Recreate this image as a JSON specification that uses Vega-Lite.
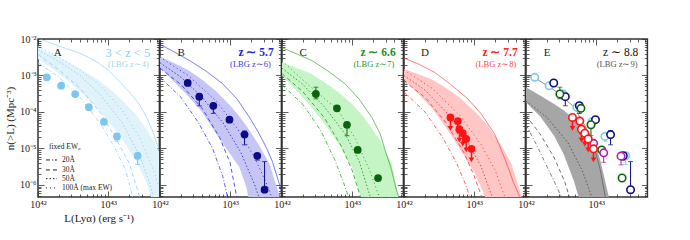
{
"$schema":"https://vega.github.io/schema/vega-lite/v6.json",
"padding":{"left":3,"top":33,"right":5,"bottom":5},
"spacing":0,
"bounds":"flush",
"config":{"view":{"stroke":"#333","strokeWidth":1.5},
"axis":{"domain":false,"grid":false,"labelFont":"Liberation Serif","labelFontSize":10,"labelColor":"#222","tickColor":"#333","tickWidth":0.8,"titleFont":"Liberation Serif","titleFontSize":11,"titleFontWeight":"normal","titleColor":"#222","labelFlush":false,"labelOverlap":false,"labelPadding":8},
"axisBottom":{"titlePadding":0},
"text":{"font":"Liberation Serif"}},
"datasets":{
"pts":[
{"g":"A","x":42.125,"y":-3.05},{"g":"A","x":42.33,"y":-3.28},{"g":"A","x":42.53,"y":-3.51},{"g":"A","x":42.725,"y":-3.87},{"g":"A","x":42.94,"y":-4.27},
{"g":"A","x":43.125,"y":-4.67,"lo":-4.8,"hi":-4.6},{"g":"A","x":43.42,"y":-5.2,"lo":-5.44,"hi":-5.12},
{"g":"B","x":42.395,"y":-3.205},{"g":"B","x":42.56,"y":-3.58,"lo":-3.83,"hi":-3.5},{"g":"B","x":42.76,"y":-3.83,"lo":-4.04,"hi":-3.83},{"g":"B","x":42.99,"y":-4.21},
{"g":"B","x":43.205,"y":-4.62,"lo":-4.9,"hi":-4.52},{"g":"B","x":43.386,"y":-5.2,"lo":-5.32,"hi":-5.2},{"g":"B","x":43.49,"y":-6.13,"lo":-6.13,"hi":-5.36},
{"g":"C","x":42.483,"y":-3.507,"lo":-3.64,"hi":-3.32},{"g":"C","x":42.783,"y":-3.9},{"g":"C","x":42.926,"y":-4.35,"lo":-4.65,"hi":-4.35},{"g":"C","x":43.079,"y":-5.04},{"g":"C","x":43.369,"y":-5.81},
{"g":"M","x":42.964,"y":-4.86},{"g":"M","x":43.107,"y":-5.12,"lo":-5.38,"hi":-5.12},{"g":"M","x":43.354,"y":-5.21,"lo":-5.45,"hi":-5.21},
{"g":"D","x":42.662,"y":-4.15,"arr":-4.45},{"g":"D","x":42.767,"y":-4.25,"arr":-4.55},{"g":"D","x":42.79,"y":-4.47,"arr":-4.77},{"g":"D","x":42.838,"y":-4.58,"arr":-4.88},{"g":"D","x":42.886,"y":-4.74,"arr":-5.04},{"g":"D","x":42.962,"y":-5.01,"arr":-5.31}
],
"curves":[
{"p":"A","k":"solid","x":42,"y":-1.98},{"p":"A","k":"solid","x":42.2,"y":-2.12},{"p":"A","k":"solid","x":42.4,"y":-2.26},{"p":"A","k":"solid","x":42.6,"y":-2.39},{"p":"A","k":"solid","x":42.8,"y":-2.58},{"p":"A","k":"solid","x":43.0,"y":-2.85},{"p":"A","k":"solid","x":43.1,"y":-3.04},{"p":"A","k":"solid","x":43.2,"y":-3.25},{"p":"A","k":"solid","x":43.3,"y":-3.45},{"p":"A","k":"solid","x":43.44,"y":-3.78},{"p":"A","k":"solid","x":43.55,"y":-4.15},{"p":"A","k":"solid","x":43.63,"y":-4.51},{"p":"A","k":"solid","x":43.73,"y":-5.07},
{"p":"A","k":"dashdot","x":42,"y":-2.65},{"p":"A","k":"dashdot","x":42.3,"y":-3.05},{"p":"A","k":"dashdot","x":42.6,"y":-3.6},{"p":"A","k":"dashdot","x":42.9,"y":-4.35},{"p":"A","k":"dashdot","x":43.1,"y":-5.0},{"p":"A","k":"dashdot","x":43.25,"y":-5.6},{"p":"A","k":"dashdot","x":43.36,"y":-6.4},
{"p":"A","k":"dashed","x":42,"y":-2.42},{"p":"A","k":"dashed","x":42.3,"y":-2.85},{"p":"A","k":"dashed","x":42.6,"y":-3.35},{"p":"A","k":"dashed","x":42.9,"y":-4.05},{"p":"A","k":"dashed","x":43.1,"y":-4.7},{"p":"A","k":"dashed","x":43.3,"y":-5.4},{"p":"A","k":"dashed","x":43.46,"y":-6.4},
{"p":"A","k":"dot50","x":42,"y":-2.3},{"p":"A","k":"dot50","x":42.3,"y":-2.62},{"p":"A","k":"dot50","x":42.6,"y":-3.0},{"p":"A","k":"dot50","x":42.9,"y":-3.55},{"p":"A","k":"dot50","x":43.2,"y":-4.3},{"p":"A","k":"dot50","x":43.45,"y":-5.2},{"p":"A","k":"dot50","x":43.6,"y":-6.0},{"p":"A","k":"dot50","x":43.65,"y":-6.4},
{"p":"A","k":"dot100","x":42,"y":-2.2},{"p":"A","k":"dot100","x":42.3,"y":-2.5},{"p":"A","k":"dot100","x":42.6,"y":-2.85},{"p":"A","k":"dot100","x":42.9,"y":-3.3},{"p":"A","k":"dot100","x":43.2,"y":-3.95},{"p":"A","k":"dot100","x":43.45,"y":-4.7},{"p":"A","k":"dot100","x":43.65,"y":-5.6},{"p":"A","k":"dot100","x":43.73,"y":-6.1},
{"p":"B","k":"solid","x":42,"y":-2.15},{"p":"B","k":"solid","x":42.2,"y":-2.35},{"p":"B","k":"solid","x":42.42,"y":-2.59},{"p":"B","k":"solid","x":42.65,"y":-2.87},{"p":"B","k":"solid","x":42.895,"y":-3.23},{"p":"B","k":"solid","x":43.1,"y":-3.65},{"p":"B","k":"solid","x":43.276,"y":-4.15},{"p":"B","k":"solid","x":43.4,"y":-4.55},{"p":"B","k":"solid","x":43.514,"y":-4.97},{"p":"B","k":"solid","x":43.6,"y":-5.35},{"p":"B","k":"solid","x":43.657,"y":-5.7},{"p":"B","k":"solid","x":43.73,"y":-6.16},
{"p":"B","k":"dashdot","x":42,"y":-3.05},{"p":"B","k":"dashdot","x":42.3,"y":-3.6},{"p":"B","k":"dashdot","x":42.55,"y":-4.3},{"p":"B","k":"dashdot","x":42.75,"y":-5.0},{"p":"B","k":"dashdot","x":42.9,"y":-5.8},{"p":"B","k":"dashdot","x":42.97,"y":-6.4},
{"p":"B","k":"dashed","x":42,"y":-2.8},{"p":"B","k":"dashed","x":42.3,"y":-3.25},{"p":"B","k":"dashed","x":42.6,"y":-3.9},{"p":"B","k":"dashed","x":42.85,"y":-4.7},{"p":"B","k":"dashed","x":43.0,"y":-5.4},{"p":"B","k":"dashed","x":43.1,"y":-6.4},
{"p":"B","k":"dot50","x":42,"y":-2.65},{"p":"B","k":"dot50","x":42.3,"y":-3.05},{"p":"B","k":"dot50","x":42.6,"y":-3.6},{"p":"B","k":"dot50","x":42.9,"y":-4.3},{"p":"B","k":"dot50","x":43.15,"y":-5.1},{"p":"B","k":"dot50","x":43.35,"y":-6.0},{"p":"B","k":"dot50","x":43.42,"y":-6.4},
{"p":"B","k":"dot100","x":42,"y":-2.5},{"p":"B","k":"dot100","x":42.4,"y":-3.0},{"p":"B","k":"dot100","x":42.8,"y":-3.7},{"p":"B","k":"dot100","x":43.1,"y":-4.45},{"p":"B","k":"dot100","x":43.35,"y":-5.25},{"p":"B","k":"dot100","x":43.55,"y":-6.1},{"p":"B","k":"dot100","x":43.6,"y":-6.4},
{"p":"C","k":"solid","x":42,"y":-2.24},{"p":"C","k":"solid","x":42.2,"y":-2.4},{"p":"C","k":"solid","x":42.426,"y":-2.59},{"p":"C","k":"solid","x":42.65,"y":-2.87},{"p":"C","k":"solid","x":42.9,"y":-3.23},{"p":"C","k":"solid","x":43.1,"y":-3.65},{"p":"C","k":"solid","x":43.28,"y":-4.15},{"p":"C","k":"solid","x":43.4,"y":-4.6},{"p":"C","k":"solid","x":43.47,"y":-5.06},{"p":"C","k":"solid","x":43.55,"y":-5.51},{"p":"C","k":"solid","x":43.62,"y":-6.06},{"p":"C","k":"solid","x":43.69,"y":-6.5},
{"p":"C","k":"dashdot","x":42,"y":-3.25},{"p":"C","k":"dashdot","x":42.3,"y":-3.8},{"p":"C","k":"dashdot","x":42.55,"y":-4.5},{"p":"C","k":"dashdot","x":42.75,"y":-5.3},{"p":"C","k":"dashdot","x":42.88,"y":-5.95},{"p":"C","k":"dashdot","x":42.96,"y":-6.4},
{"p":"C","k":"dashed","x":42,"y":-2.95},{"p":"C","k":"dashed","x":42.3,"y":-3.45},{"p":"C","k":"dashed","x":42.6,"y":-4.15},{"p":"C","k":"dashed","x":42.85,"y":-4.95},{"p":"C","k":"dashed","x":43.0,"y":-5.6},{"p":"C","k":"dashed","x":43.13,"y":-6.4},
{"p":"C","k":"dot50","x":42,"y":-2.8},{"p":"C","k":"dot50","x":42.3,"y":-3.25},{"p":"C","k":"dot50","x":42.6,"y":-3.85},{"p":"C","k":"dot50","x":42.9,"y":-4.6},{"p":"C","k":"dot50","x":43.1,"y":-5.35},{"p":"C","k":"dot50","x":43.27,"y":-6.4},
{"p":"C","k":"dot100","x":42,"y":-2.6},{"p":"C","k":"dot100","x":42.4,"y":-3.3},{"p":"C","k":"dot100","x":42.8,"y":-3.95},{"p":"C","k":"dot100","x":43.05,"y":-4.75},{"p":"C","k":"dot100","x":43.25,"y":-5.6},{"p":"C","k":"dot100","x":43.4,"y":-6.4},
{"p":"D","k":"solid","x":42,"y":-2.52},{"p":"D","k":"solid","x":42.2,"y":-2.68},{"p":"D","k":"solid","x":42.433,"y":-2.91},{"p":"D","k":"solid","x":42.65,"y":-3.22},{"p":"D","k":"solid","x":42.91,"y":-3.64},{"p":"D","k":"solid","x":43.1,"y":-4.05},{"p":"D","k":"solid","x":43.29,"y":-4.6},{"p":"D","k":"solid","x":43.4,"y":-5.1},{"p":"D","k":"solid","x":43.48,"y":-5.5},{"p":"D","k":"solid","x":43.55,"y":-5.88},{"p":"D","k":"solid","x":43.65,"y":-6.33},{"p":"D","k":"solid","x":43.68,"y":-6.5},
{"p":"D","k":"dashdot","x":42,"y":-3.45},{"p":"D","k":"dashdot","x":42.3,"y":-4.0},{"p":"D","k":"dashdot","x":42.55,"y":-4.7},{"p":"D","k":"dashdot","x":42.75,"y":-5.4},{"p":"D","k":"dashdot","x":42.88,"y":-6.0},{"p":"D","k":"dashdot","x":42.95,"y":-6.4},
{"p":"D","k":"dashed","x":42,"y":-3.15},{"p":"D","k":"dashed","x":42.3,"y":-3.6},{"p":"D","k":"dashed","x":42.6,"y":-4.3},{"p":"D","k":"dashed","x":42.85,"y":-5.1},{"p":"D","k":"dashed","x":43.0,"y":-5.75},{"p":"D","k":"dashed","x":43.12,"y":-6.4},
{"p":"D","k":"dot50","x":42,"y":-3.0},{"p":"D","k":"dot50","x":42.3,"y":-3.4},{"p":"D","k":"dot50","x":42.6,"y":-4.0},{"p":"D","k":"dot50","x":42.9,"y":-4.8},{"p":"D","k":"dot50","x":43.1,"y":-5.5},{"p":"D","k":"dot50","x":43.27,"y":-6.4},
{"p":"D","k":"dot100","x":42,"y":-2.85},{"p":"D","k":"dot100","x":42.4,"y":-3.35},{"p":"D","k":"dot100","x":42.8,"y":-4.1},{"p":"D","k":"dot100","x":43.1,"y":-4.9},{"p":"D","k":"dot100","x":43.3,"y":-5.6},{"p":"D","k":"dot100","x":43.45,"y":-6.4},
{"p":"E","k":"solid","x":42,"y":-3.0},{"p":"E","k":"solid","x":42.155,"y":-3.1},{"p":"E","k":"solid","x":42.4,"y":-3.4},{"p":"E","k":"solid","x":42.68,"y":-3.85},{"p":"E","k":"solid","x":42.85,"y":-4.4},{"p":"E","k":"solid","x":42.99,"y":-5.1},{"p":"E","k":"solid","x":43.06,"y":-5.6},{"p":"E","k":"solid","x":43.13,"y":-6.33},{"p":"E","k":"solid","x":43.15,"y":-6.5},
{"p":"E","k":"dashdot","x":42,"y":-4.35},{"p":"E","k":"dashdot","x":42.15,"y":-4.9},{"p":"E","k":"dashdot","x":42.3,"y":-5.5},{"p":"E","k":"dashdot","x":42.45,"y":-6.1},{"p":"E","k":"dashdot","x":42.52,"y":-6.4},
{"p":"E","k":"dashed","x":42,"y":-4.1},{"p":"E","k":"dashed","x":42.2,"y":-4.6},{"p":"E","k":"dashed","x":42.4,"y":-5.25},{"p":"E","k":"dashed","x":42.55,"y":-5.9},{"p":"E","k":"dashed","x":42.63,"y":-6.4},
{"p":"E","k":"dot50","x":42,"y":-3.7},{"p":"E","k":"dot50","x":42.3,"y":-4.15},{"p":"E","k":"dot50","x":42.6,"y":-4.85},{"p":"E","k":"dot50","x":42.8,"y":-5.6},{"p":"E","k":"dot50","x":42.95,"y":-6.4}
],
"bands":[
{"p":"A","x":42,"lo":-2.55,"hi":-2.23},{"p":"A","x":42.2,"lo":-2.8,"hi":-2.41},{"p":"A","x":42.4,"lo":-3.1,"hi":-2.6},{"p":"A","x":42.6,"lo":-3.43,"hi":-2.82},{"p":"A","x":42.8,"lo":-3.8,"hi":-3.05},{"p":"A","x":43.0,"lo":-4.25,"hi":-3.33},{"p":"A","x":43.2,"lo":-4.75,"hi":-3.68},{"p":"A","x":43.4,"lo":-5.35,"hi":-4.08},{"p":"A","x":43.55,"lo":-5.95,"hi":-4.48},{"p":"A","x":43.63,"lo":-6.5,"hi":-4.75},{"p":"A","x":43.73,"lo":-6.5,"hi":-5.1},
{"p":"B","x":42,"lo":-2.78,"hi":-2.48},{"p":"B","x":42.2,"lo":-3.17,"hi":-2.66},{"p":"B","x":42.4,"lo":-3.56,"hi":-2.85},{"p":"B","x":42.6,"lo":-4.0,"hi":-3.12},{"p":"B","x":42.8,"lo":-4.6,"hi":-3.43},{"p":"B","x":43.0,"lo":-5.15,"hi":-3.82},{"p":"B","x":43.13,"lo":-5.51,"hi":-4.12},{"p":"B","x":43.23,"lo":-6.06,"hi":-4.38},{"p":"B","x":43.28,"lo":-6.5,"hi":-4.52},{"p":"B","x":43.4,"lo":-6.5,"hi":-4.88},{"p":"B","x":43.56,"lo":-6.5,"hi":-5.42},{"p":"B","x":43.68,"lo":-6.5,"hi":-6.16},{"p":"B","x":43.73,"lo":-6.5,"hi":-6.5},
{"p":"C","x":42,"lo":-3.0,"hi":-2.64},{"p":"C","x":42.2,"lo":-3.4,"hi":-2.79},{"p":"C","x":42.4,"lo":-3.82,"hi":-2.94},{"p":"C","x":42.6,"lo":-4.3,"hi":-3.18},{"p":"C","x":42.8,"lo":-4.85,"hi":-3.45},{"p":"C","x":43.0,"lo":-5.52,"hi":-3.78},{"p":"C","x":43.12,"lo":-6.33,"hi":-4.04},{"p":"C","x":43.15,"lo":-6.5,"hi":-4.1},{"p":"C","x":43.4,"lo":-6.5,"hi":-4.78},{"p":"C","x":43.565,"lo":-6.5,"hi":-5.42},{"p":"C","x":43.64,"lo":-6.5,"hi":-6.16},{"p":"C","x":43.68,"lo":-6.5,"hi":-6.5},
{"p":"D","x":42,"lo":-3.1,"hi":-2.82},{"p":"D","x":42.2,"lo":-3.5,"hi":-2.96},{"p":"D","x":42.4,"lo":-3.9,"hi":-3.11},{"p":"D","x":42.6,"lo":-4.43,"hi":-3.34},{"p":"D","x":42.8,"lo":-5.02,"hi":-3.62},{"p":"D","x":43.0,"lo":-5.65,"hi":-3.97},{"p":"D","x":43.1,"lo":-6.06,"hi":-4.17},{"p":"D","x":43.19,"lo":-6.5,"hi":-4.36},{"p":"D","x":43.4,"lo":-6.5,"hi":-4.95},{"p":"D","x":43.53,"lo":-6.5,"hi":-5.42},{"p":"D","x":43.65,"lo":-6.5,"hi":-6.16},{"p":"D","x":43.7,"lo":-6.5,"hi":-6.5},
{"p":"E","x":42,"lo":-3.73,"hi":-3.32},{"p":"E","x":42.2,"lo":-4.12,"hi":-3.55},{"p":"E","x":42.4,"lo":-4.65,"hi":-3.78},{"p":"E","x":42.536,"lo":-5.15,"hi":-3.95},{"p":"E","x":42.68,"lo":-5.88,"hi":-4.2},{"p":"E","x":42.75,"lo":-6.33,"hi":-4.3},{"p":"E","x":42.78,"lo":-6.5,"hi":-4.35},{"p":"E","x":42.92,"lo":-6.5,"hi":-4.6},{"p":"E","x":43.0,"lo":-6.5,"hi":-4.95},{"p":"E","x":43.06,"lo":-6.5,"hi":-5.33},{"p":"E","x":43.18,"lo":-6.5,"hi":-6.33},{"p":"E","x":43.2,"lo":-6.5,"hi":-6.5}
],
"leg":[{"k":"dashdot","x":42.114,"x2":42.271,"y":-5.315},{"k":"dashed","x":42.114,"x2":42.271,"y":-5.589},{"k":"dot50","x":42.114,"x2":42.271,"y":-5.827},{"k":"dot100","x":42.114,"x2":42.271,"y":-6.08}],
"txt":[
{"p":"A","r":"letter","x":42.28,"y":-2.38,"t":"A"},{"p":"B","r":"letter","x":42.3,"y":-2.38,"t":"B"},{"p":"C","r":"letter","x":42.3,"y":-2.38,"t":"C"},{"p":"D","r":"letter","x":42.3,"y":-2.38,"t":"D"},{"p":"E","r":"letter","x":42.3,"y":-2.38,"t":"E"},
{"p":"A","r":"title","x":43.6,"y":-2.39,"t":"3 < z < 5"},{"p":"B","r":"title","x":43.62,"y":-2.39,"t":"z ∼ 5.7"},{"p":"C","r":"title","x":43.62,"y":-2.39,"t":"z ∼ 6.6"},{"p":"D","r":"title","x":43.62,"y":-2.39,"t":"z ∼ 7.7"},{"p":"E","r":"title","x":43.6,"y":-2.39,"t":"z ∼ 8.8"},
{"p":"A","r":"sub","x":43.58,"y":-2.685,"t":"(LBG z∼4)"},{"p":"B","r":"sub","x":43.58,"y":-2.685,"t":"(LBG z∼6)"},{"p":"C","r":"sub","x":43.6,"y":-2.685,"t":"(LBG z∼7)"},{"p":"D","r":"sub","x":43.6,"y":-2.685,"t":"(LBG z∼8)"},{"p":"E","r":"sub","x":43.59,"y":-2.685,"t":"(LBG z∼9)"},
{"p":"A","r":"leg","x":42.157,"y":-4.97,"t":"fixed EW₀"},{"p":"A","r":"leg","x":42.343,"y":-5.315,"t":"20Å"},{"p":"A","r":"leg","x":42.343,"y":-5.589,"t":"30Å"},{"p":"A","r":"leg","x":42.343,"y":-5.827,"t":"50Å"},{"p":"A","r":"leg","x":42.343,"y":-6.08,"t":"100Å (max EW)"}
]
},
"hconcat":[
{"width":121.4,"height":158,
"layer":[
{"data":{"name":"bands"},"transform":[{"filter":"datum.p=='A'"}],"mark":{"type":"area","color":"#e0f3fa","clip":true},
"encoding":{"x":{"field":"x","type":"quantitative","scale":{"domain":[42,43.73],"nice":false,"zero":false},"axis":{"orient":"bottom","values":[42,42.30103,42.47712,42.60206,42.69897,42.77815,42.8451,42.90309,42.95424,43,43.30103,43.47712,43.60206,43.69897],"labelExpr":"datum.value == 42 ? '10⁴²' : datum.value == 43 ? '10⁴³' : ''","tickSize":{"condition":{"test":"datum.value == round(datum.value)","value":-6},"value":-3},"title":"L(Lyα)   (erg s⁻¹)"}},
"y":{"field":"lo","type":"quantitative","scale":{"domain":[-6.33,-2],"nice":false,"zero":false},"axis":{"orient":"left","values":[-6.30103,-6.22185,-6.1549,-6.09691,-6.04576,-6,-5.69897,-5.52288,-5.39794,-5.30103,-5.22185,-5.1549,-5.09691,-5.04576,-5,-4.69897,-4.52288,-4.39794,-4.30103,-4.22185,-4.1549,-4.09691,-4.04576,-4,-3.69897,-3.52288,-3.39794,-3.30103,-3.22185,-3.1549,-3.09691,-3.04576,-3,-2.69897,-2.52288,-2.39794,-2.30103,-2.22185,-2.1549,-2.09691,-2.04576,-2],"labelExpr":"datum.value == -2 ? '10⁻²' : datum.value == -3 ? '10⁻³' : datum.value == -4 ? '10⁻⁴' : datum.value == -5 ? '10⁻⁵' : datum.value == -6 ? '10⁻⁶' : ''","tickSize":{"condition":{"test":"datum.value == round(datum.value)","value":-6},"value":-3},"title":"n(>L)   (Mpc⁻³)"}},
"y2":{"field":"hi"}}},
{"data":{"name":"curves"},"transform":[{"filter":"datum.p=='A'"}],"mark":{"type":"line","color":"#8dd0f4","clip":true},
"encoding":{"x":{"field":"x","type":"quantitative","axis":{"orient":"top","values":[42,42.30103,42.47712,42.60206,42.69897,42.77815,42.8451,42.90309,42.95424,43,43.30103,43.47712,43.60206,43.69897],"labels":false,"tickSize":{"condition":{"test":"datum.value == round(datum.value)","value":-6},"value":-3},"title":null}},
"y":{"field":"y","type":"quantitative","axis":{"orient":"right","values":[-6.30103,-6.22185,-6.1549,-6.09691,-6.04576,-6,-5.69897,-5.52288,-5.39794,-5.30103,-5.22185,-5.1549,-5.09691,-5.04576,-5,-4.69897,-4.52288,-4.39794,-4.30103,-4.22185,-4.1549,-4.09691,-4.04576,-4,-3.69897,-3.52288,-3.39794,-3.30103,-3.22185,-3.1549,-3.09691,-3.04576,-3,-2.69897,-2.52288,-2.39794,-2.30103,-2.22185,-2.1549,-2.09691,-2.04576,-2],"labels":false,"tickSize":{"condition":{"test":"datum.value == round(datum.value)","value":-6},"value":-3},"title":null}},
"detail":{"field":"k"},"strokeDash":{"field":"k","type":"nominal","scale":{"domain":["solid","dashdot","dashed","dot50","dot100"],"range":[[1,0],[4,2,1,2],[4,3],[1.5,2],[1,3]]},"legend":null},
"strokeWidth":{"field":"k","type":"nominal","scale":{"domain":["solid","dashdot","dashed","dot50","dot100"],"range":[0.7,1,1,1,1]},"legend":null}}},
{"data":{"name":"leg"},"mark":{"type":"rule","color":"#222","strokeWidth":1},
"encoding":{"x":{"field":"x","type":"quantitative","axis":null},"x2":{"field":"x2"},"y":{"field":"y","type":"quantitative","axis":null},"strokeDash":{"field":"k","type":"nominal","scale":{"domain":["solid","dashdot","dashed","dot50","dot100"],"range":[[1,0],[4,2,1,2],[4,3],[1.5,2],[1,3]]},"legend":null}}},
{"data":{"name":"pts"},"transform":[{"filter":"datum.g=='A' && isValid(datum.lo)"}],"mark":{"type":"errorbar","ticks":true,"color":"#7fc6ee"},
"encoding":{"x":{"field":"x","type":"quantitative","axis":null},"y":{"field":"lo","type":"quantitative","axis":null},"y2":{"field":"hi"}}},
{"data":{"name":"pts"},"transform":[{"filter":"datum.g=='A'"}],"mark":{"type":"circle","size":60,"color":"#7fc6ee","opacity":1},
"encoding":{"x":{"field":"x","type":"quantitative","axis":null},"y":{"field":"y","type":"quantitative","axis":null}}},
{"data":{"name":"txt"},"transform":[{"filter":"datum.p=='A' && datum.r=='letter'"}],"mark":{"type":"text","fontSize":11,"color":"#222"},
"encoding":{"x":{"field":"x","type":"quantitative","axis":null},"y":{"field":"y","type":"quantitative","axis":null},"text":{"field":"t"}}},
{"data":{"name":"txt"},"transform":[{"filter":"datum.p=='A' && datum.r=='title'"}],"mark":{"type":"text","fontSize":12.5,"color":"#87cefa","align":"right"},
"encoding":{"x":{"field":"x","type":"quantitative","axis":null},"y":{"field":"y","type":"quantitative","axis":null},"text":{"field":"t"}}},
{"data":{"name":"txt"},"transform":[{"filter":"datum.p=='A' && datum.r=='sub'"}],"mark":{"type":"text","fontSize":8.5,"color":"#a0d8f6","align":"right"},
"encoding":{"x":{"field":"x","type":"quantitative","axis":null},"y":{"field":"y","type":"quantitative","axis":null},"text":{"field":"t"}}},
{"data":{"name":"txt"},"transform":[{"filter":"datum.p=='A' && datum.r=='leg'"}],"mark":{"type":"text","fontSize":7.5,"color":"#222","align":"left"},
"encoding":{"x":{"field":"x","type":"quantitative","axis":null},"y":{"field":"y","type":"quantitative","axis":null},"text":{"field":"t"}}}
],
"resolve":{"axis":{"x":"independent","y":"independent"}}},

{"width":121.4,"height":158,
"layer":[
{"data":{"name":"bands"},"transform":[{"filter":"datum.p=='B'"}],"mark":{"type":"area","color":"#c6c6f4","clip":true},
"encoding":{"x":{"field":"x","type":"quantitative","scale":{"domain":[42,43.73],"nice":false,"zero":false},"axis":{"orient":"bottom","values":[42,42.30103,42.47712,42.60206,42.69897,42.77815,42.8451,42.90309,42.95424,43,43.30103,43.47712,43.60206,43.69897],"labelExpr":"datum.value == 42 ? '10⁴²' : datum.value == 43 ? '10⁴³' : ''","tickSize":{"condition":{"test":"datum.value == round(datum.value)","value":-6},"value":-3},"title":null}},
"y":{"field":"lo","type":"quantitative","scale":{"domain":[-6.33,-2],"nice":false,"zero":false},"axis":{"orient":"left","values":[-6.30103,-6.22185,-6.1549,-6.09691,-6.04576,-6,-5.69897,-5.52288,-5.39794,-5.30103,-5.22185,-5.1549,-5.09691,-5.04576,-5,-4.69897,-4.52288,-4.39794,-4.30103,-4.22185,-4.1549,-4.09691,-4.04576,-4,-3.69897,-3.52288,-3.39794,-3.30103,-3.22185,-3.1549,-3.09691,-3.04576,-3,-2.69897,-2.52288,-2.39794,-2.30103,-2.22185,-2.1549,-2.09691,-2.04576,-2],"labels":false,"tickSize":{"condition":{"test":"datum.value == round(datum.value)","value":-6},"value":-3},"title":null}},
"y2":{"field":"hi"}}},
{"data":{"name":"curves"},"transform":[{"filter":"datum.p=='B'"}],"mark":{"type":"line","color":"#3333ee","clip":true},
"encoding":{"x":{"field":"x","type":"quantitative","axis":{"orient":"top","values":[42,42.30103,42.47712,42.60206,42.69897,42.77815,42.8451,42.90309,42.95424,43,43.30103,43.47712,43.60206,43.69897],"labels":false,"tickSize":{"condition":{"test":"datum.value == round(datum.value)","value":-6},"value":-3},"title":null}},
"y":{"field":"y","type":"quantitative","axis":{"orient":"right","values":[-6.30103,-6.22185,-6.1549,-6.09691,-6.04576,-6,-5.69897,-5.52288,-5.39794,-5.30103,-5.22185,-5.1549,-5.09691,-5.04576,-5,-4.69897,-4.52288,-4.39794,-4.30103,-4.22185,-4.1549,-4.09691,-4.04576,-4,-3.69897,-3.52288,-3.39794,-3.30103,-3.22185,-3.1549,-3.09691,-3.04576,-3,-2.69897,-2.52288,-2.39794,-2.30103,-2.22185,-2.1549,-2.09691,-2.04576,-2],"labels":false,"tickSize":{"condition":{"test":"datum.value == round(datum.value)","value":-6},"value":-3},"title":null}},
"detail":{"field":"k"},"strokeDash":{"field":"k","type":"nominal","scale":{"domain":["solid","dashdot","dashed","dot50","dot100"],"range":[[1,0],[4,2,1,2],[4,3],[1.5,2],[1,3]]},"legend":null},
"strokeWidth":{"field":"k","type":"nominal","scale":{"domain":["solid","dashdot","dashed","dot50","dot100"],"range":[0.7,1,1,1,1]},"legend":null}}},
{"data":{"name":"pts"},"transform":[{"filter":"datum.g=='B' && isValid(datum.lo)"}],"mark":{"type":"errorbar","ticks":true,"color":"#0c0c88"},
"encoding":{"x":{"field":"x","type":"quantitative","axis":null},"y":{"field":"lo","type":"quantitative","axis":null},"y2":{"field":"hi"}}},
{"data":{"name":"pts"},"transform":[{"filter":"datum.g=='B'"}],"mark":{"type":"circle","size":60,"color":"#0c0c88","opacity":1},
"encoding":{"x":{"field":"x","type":"quantitative","axis":null},"y":{"field":"y","type":"quantitative","axis":null}}},
{"data":{"name":"txt"},"transform":[{"filter":"datum.p=='B' && datum.r=='letter'"}],"mark":{"type":"text","fontSize":11,"color":"#222"},
"encoding":{"x":{"field":"x","type":"quantitative","axis":null},"y":{"field":"y","type":"quantitative","axis":null},"text":{"field":"t"}}},
{"data":{"name":"txt"},"transform":[{"filter":"datum.p=='B' && datum.r=='title'"}],"mark":{"type":"text","fontSize":11.5,"fontWeight":"bold","color":"#1c1ce0","align":"right"},
"encoding":{"x":{"field":"x","type":"quantitative","axis":null},"y":{"field":"y","type":"quantitative","axis":null},"text":{"field":"t"}}},
{"data":{"name":"txt"},"transform":[{"filter":"datum.p=='B' && datum.r=='sub'"}],"mark":{"type":"text","fontSize":8.5,"color":"#3a3ae8","align":"right"},
"encoding":{"x":{"field":"x","type":"quantitative","axis":null},"y":{"field":"y","type":"quantitative","axis":null},"text":{"field":"t"}}}
],
"resolve":{"axis":{"x":"independent","y":"independent"}}},

{"width":121.4,"height":158,
"layer":[
{"data":{"name":"bands"},"transform":[{"filter":"datum.p=='C'"}],"mark":{"type":"area","color":"#c5f5c5","clip":true},
"encoding":{"x":{"field":"x","type":"quantitative","scale":{"domain":[42,43.73],"nice":false,"zero":false},"axis":{"orient":"bottom","values":[42,42.30103,42.47712,42.60206,42.69897,42.77815,42.8451,42.90309,42.95424,43,43.30103,43.47712,43.60206,43.69897],"labelExpr":"datum.value == 42 ? '10⁴²' : datum.value == 43 ? '10⁴³' : ''","tickSize":{"condition":{"test":"datum.value == round(datum.value)","value":-6},"value":-3},"title":null}},
"y":{"field":"lo","type":"quantitative","scale":{"domain":[-6.33,-2],"nice":false,"zero":false},"axis":{"orient":"left","values":[-6.30103,-6.22185,-6.1549,-6.09691,-6.04576,-6,-5.69897,-5.52288,-5.39794,-5.30103,-5.22185,-5.1549,-5.09691,-5.04576,-5,-4.69897,-4.52288,-4.39794,-4.30103,-4.22185,-4.1549,-4.09691,-4.04576,-4,-3.69897,-3.52288,-3.39794,-3.30103,-3.22185,-3.1549,-3.09691,-3.04576,-3,-2.69897,-2.52288,-2.39794,-2.30103,-2.22185,-2.1549,-2.09691,-2.04576,-2],"labels":false,"tickSize":{"condition":{"test":"datum.value == round(datum.value)","value":-6},"value":-3},"title":null}},
"y2":{"field":"hi"}}},
{"data":{"name":"curves"},"transform":[{"filter":"datum.p=='C'"}],"mark":{"type":"line","color":"#2a9e2a","clip":true},
"encoding":{"x":{"field":"x","type":"quantitative","axis":{"orient":"top","values":[42,42.30103,42.47712,42.60206,42.69897,42.77815,42.8451,42.90309,42.95424,43,43.30103,43.47712,43.60206,43.69897],"labels":false,"tickSize":{"condition":{"test":"datum.value == round(datum.value)","value":-6},"value":-3},"title":null}},
"y":{"field":"y","type":"quantitative","axis":{"orient":"right","values":[-6.30103,-6.22185,-6.1549,-6.09691,-6.04576,-6,-5.69897,-5.52288,-5.39794,-5.30103,-5.22185,-5.1549,-5.09691,-5.04576,-5,-4.69897,-4.52288,-4.39794,-4.30103,-4.22185,-4.1549,-4.09691,-4.04576,-4,-3.69897,-3.52288,-3.39794,-3.30103,-3.22185,-3.1549,-3.09691,-3.04576,-3,-2.69897,-2.52288,-2.39794,-2.30103,-2.22185,-2.1549,-2.09691,-2.04576,-2],"labels":false,"tickSize":{"condition":{"test":"datum.value == round(datum.value)","value":-6},"value":-3},"title":null}},
"detail":{"field":"k"},"strokeDash":{"field":"k","type":"nominal","scale":{"domain":["solid","dashdot","dashed","dot50","dot100"],"range":[[1,0],[4,2,1,2],[4,3],[1.5,2],[1,3]]},"legend":null},
"strokeWidth":{"field":"k","type":"nominal","scale":{"domain":["solid","dashdot","dashed","dot50","dot100"],"range":[0.7,1,1,1,1]},"legend":null}}},
{"data":{"name":"pts"},"transform":[{"filter":"datum.g=='C' && isValid(datum.lo)"}],"mark":{"type":"errorbar","ticks":true,"color":"#0b640b"},
"encoding":{"x":{"field":"x","type":"quantitative","axis":null},"y":{"field":"lo","type":"quantitative","axis":null},"y2":{"field":"hi"}}},
{"data":{"name":"pts"},"transform":[{"filter":"datum.g=='C'"}],"mark":{"type":"circle","size":60,"color":"#0b640b","opacity":1},
"encoding":{"x":{"field":"x","type":"quantitative","axis":null},"y":{"field":"y","type":"quantitative","axis":null}}},
{"data":{"name":"txt"},"transform":[{"filter":"datum.p=='C' && datum.r=='letter'"}],"mark":{"type":"text","fontSize":11,"color":"#222"},
"encoding":{"x":{"field":"x","type":"quantitative","axis":null},"y":{"field":"y","type":"quantitative","axis":null},"text":{"field":"t"}}},
{"data":{"name":"txt"},"transform":[{"filter":"datum.p=='C' && datum.r=='title'"}],"mark":{"type":"text","fontSize":11.5,"fontWeight":"bold","color":"#1f8f1f","align":"right"},
"encoding":{"x":{"field":"x","type":"quantitative","axis":null},"y":{"field":"y","type":"quantitative","axis":null},"text":{"field":"t"}}},
{"data":{"name":"txt"},"transform":[{"filter":"datum.p=='C' && datum.r=='sub'"}],"mark":{"type":"text","fontSize":8.5,"color":"#2a9e2a","align":"right"},
"encoding":{"x":{"field":"x","type":"quantitative","axis":null},"y":{"field":"y","type":"quantitative","axis":null},"text":{"field":"t"}}}
],
"resolve":{"axis":{"x":"independent","y":"independent"}}},

{"width":121.4,"height":158,
"layer":[
{"data":{"name":"bands"},"transform":[{"filter":"datum.p=='D'"}],"mark":{"type":"area","color":"#ffc6c6","clip":true},
"encoding":{"x":{"field":"x","type":"quantitative","scale":{"domain":[42,43.73],"nice":false,"zero":false},"axis":{"orient":"bottom","values":[42,42.30103,42.47712,42.60206,42.69897,42.77815,42.8451,42.90309,42.95424,43,43.30103,43.47712,43.60206,43.69897],"labelExpr":"datum.value == 42 ? '10⁴²' : datum.value == 43 ? '10⁴³' : ''","tickSize":{"condition":{"test":"datum.value == round(datum.value)","value":-6},"value":-3},"title":null}},
"y":{"field":"lo","type":"quantitative","scale":{"domain":[-6.33,-2],"nice":false,"zero":false},"axis":{"orient":"left","values":[-6.30103,-6.22185,-6.1549,-6.09691,-6.04576,-6,-5.69897,-5.52288,-5.39794,-5.30103,-5.22185,-5.1549,-5.09691,-5.04576,-5,-4.69897,-4.52288,-4.39794,-4.30103,-4.22185,-4.1549,-4.09691,-4.04576,-4,-3.69897,-3.52288,-3.39794,-3.30103,-3.22185,-3.1549,-3.09691,-3.04576,-3,-2.69897,-2.52288,-2.39794,-2.30103,-2.22185,-2.1549,-2.09691,-2.04576,-2],"labels":false,"tickSize":{"condition":{"test":"datum.value == round(datum.value)","value":-6},"value":-3},"title":null}},
"y2":{"field":"hi"}}},
{"data":{"name":"curves"},"transform":[{"filter":"datum.p=='D'"}],"mark":{"type":"line","color":"#ff3a3a","clip":true},
"encoding":{"x":{"field":"x","type":"quantitative","axis":{"orient":"top","values":[42,42.30103,42.47712,42.60206,42.69897,42.77815,42.8451,42.90309,42.95424,43,43.30103,43.47712,43.60206,43.69897],"labels":false,"tickSize":{"condition":{"test":"datum.value == round(datum.value)","value":-6},"value":-3},"title":null}},
"y":{"field":"y","type":"quantitative","axis":{"orient":"right","values":[-6.30103,-6.22185,-6.1549,-6.09691,-6.04576,-6,-5.69897,-5.52288,-5.39794,-5.30103,-5.22185,-5.1549,-5.09691,-5.04576,-5,-4.69897,-4.52288,-4.39794,-4.30103,-4.22185,-4.1549,-4.09691,-4.04576,-4,-3.69897,-3.52288,-3.39794,-3.30103,-3.22185,-3.1549,-3.09691,-3.04576,-3,-2.69897,-2.52288,-2.39794,-2.30103,-2.22185,-2.1549,-2.09691,-2.04576,-2],"labels":false,"tickSize":{"condition":{"test":"datum.value == round(datum.value)","value":-6},"value":-3},"title":null}},
"detail":{"field":"k"},"strokeDash":{"field":"k","type":"nominal","scale":{"domain":["solid","dashdot","dashed","dot50","dot100"],"range":[[1,0],[4,2,1,2],[4,3],[1.5,2],[1,3]]},"legend":null},
"strokeWidth":{"field":"k","type":"nominal","scale":{"domain":["solid","dashdot","dashed","dot50","dot100"],"range":[0.7,1,1,1,1]},"legend":null}}},
{"data":{"name":"pts"},"transform":[{"filter":"datum.g=='D'"}],"mark":{"type":"rule","color":"#ff1414","strokeWidth":1.5},
"encoding":{"x":{"field":"x","type":"quantitative","axis":null},"y":{"field":"y","type":"quantitative","axis":null},"y2":{"field":"arr"}}},
{"data":{"name":"pts"},"transform":[{"filter":"datum.g=='D'"}],"mark":{"type":"point","shape":"triangle-down","filled":true,"size":30,"color":"#ff1414","opacity":1},
"encoding":{"x":{"field":"x","type":"quantitative","axis":null},"y":{"field":"arr","type":"quantitative","axis":null}}},
{"data":{"name":"pts"},"transform":[{"filter":"datum.g=='D'"}],"mark":{"type":"circle","size":60,"color":"#ff1414","opacity":1},
"encoding":{"x":{"field":"x","type":"quantitative","axis":null},"y":{"field":"y","type":"quantitative","axis":null}}},
{"data":{"name":"txt"},"transform":[{"filter":"datum.p=='D' && datum.r=='letter'"}],"mark":{"type":"text","fontSize":11,"color":"#222"},
"encoding":{"x":{"field":"x","type":"quantitative","axis":null},"y":{"field":"y","type":"quantitative","axis":null},"text":{"field":"t"}}},
{"data":{"name":"txt"},"transform":[{"filter":"datum.p=='D' && datum.r=='title'"}],"mark":{"type":"text","fontSize":11.5,"fontWeight":"bold","color":"#ff2020","align":"right"},
"encoding":{"x":{"field":"x","type":"quantitative","axis":null},"y":{"field":"y","type":"quantitative","axis":null},"text":{"field":"t"}}},
{"data":{"name":"txt"},"transform":[{"filter":"datum.p=='D' && datum.r=='sub'"}],"mark":{"type":"text","fontSize":8.5,"color":"#ff4a4a","align":"right"},
"encoding":{"x":{"field":"x","type":"quantitative","axis":null},"y":{"field":"y","type":"quantitative","axis":null},"text":{"field":"t"}}}
],
"resolve":{"axis":{"x":"independent","y":"independent"}}},

{"width":121.4,"height":158,
"layer":[
{"data":{"name":"bands"},"transform":[{"filter":"datum.p=='E'"}],"mark":{"type":"area","color":"#a6a6a6","clip":true},
"encoding":{"x":{"field":"x","type":"quantitative","scale":{"domain":[42,43.73],"nice":false,"zero":false},"axis":{"orient":"bottom","values":[42,42.30103,42.47712,42.60206,42.69897,42.77815,42.8451,42.90309,42.95424,43,43.30103,43.47712,43.60206,43.69897],"labelExpr":"datum.value == 42 ? '10⁴²' : datum.value == 43 ? '10⁴³' : ''","tickSize":{"condition":{"test":"datum.value == round(datum.value)","value":-6},"value":-3},"title":null}},
"y":{"field":"lo","type":"quantitative","scale":{"domain":[-6.33,-2],"nice":false,"zero":false},"axis":{"orient":"left","values":[-6.30103,-6.22185,-6.1549,-6.09691,-6.04576,-6,-5.69897,-5.52288,-5.39794,-5.30103,-5.22185,-5.1549,-5.09691,-5.04576,-5,-4.69897,-4.52288,-4.39794,-4.30103,-4.22185,-4.1549,-4.09691,-4.04576,-4,-3.69897,-3.52288,-3.39794,-3.30103,-3.22185,-3.1549,-3.09691,-3.04576,-3,-2.69897,-2.52288,-2.39794,-2.30103,-2.22185,-2.1549,-2.09691,-2.04576,-2],"labels":false,"tickSize":{"condition":{"test":"datum.value == round(datum.value)","value":-6},"value":-3},"title":null}},
"y2":{"field":"hi"}}},
{"data":{"name":"curves"},"transform":[{"filter":"datum.p=='E'"}],"mark":{"type":"line","color":"#555555","clip":true},
"encoding":{"x":{"field":"x","type":"quantitative","axis":{"orient":"top","values":[42,42.30103,42.47712,42.60206,42.69897,42.77815,42.8451,42.90309,42.95424,43,43.30103,43.47712,43.60206,43.69897],"labels":false,"tickSize":{"condition":{"test":"datum.value == round(datum.value)","value":-6},"value":-3},"title":null}},
"y":{"field":"y","type":"quantitative","axis":{"orient":"right","values":[-6.30103,-6.22185,-6.1549,-6.09691,-6.04576,-6,-5.69897,-5.52288,-5.39794,-5.30103,-5.22185,-5.1549,-5.09691,-5.04576,-5,-4.69897,-4.52288,-4.39794,-4.30103,-4.22185,-4.1549,-4.09691,-4.04576,-4,-3.69897,-3.52288,-3.39794,-3.30103,-3.22185,-3.1549,-3.09691,-3.04576,-3,-2.69897,-2.52288,-2.39794,-2.30103,-2.22185,-2.1549,-2.09691,-2.04576,-2],"labels":false,"tickSize":{"condition":{"test":"datum.value == round(datum.value)","value":-6},"value":-3},"title":null}},
"detail":{"field":"k"},"strokeDash":{"field":"k","type":"nominal","scale":{"domain":["solid","dashdot","dashed","dot50","dot100"],"range":[[1,0],[4,2,1,2],[4,3],[1.5,2],[1,3]]},"legend":null},
"strokeWidth":{"field":"k","type":"nominal","scale":{"domain":["solid","dashdot","dashed","dot50","dot100"],"range":[0.7,1,1,1,1]},"legend":null}}},
{"data":{"name":"pts"},"transform":[{"filter":"isValid(datum.lo)"}],"mark":{"type":"errorbar","ticks":true},
"encoding":{"x":{"field":"x","type":"quantitative","axis":null},"y":{"field":"lo","type":"quantitative","axis":null},"y2":{"field":"hi"},
"color":{"field":"g","type":"nominal","scale":{"domain":["A","B","C","M","D"],"range":["#7fc6ee","#0c0c88","#0b640b","#b020b0","#ff1414"]},"legend":null}}},
{"data":{"name":"pts"},"transform":[{"filter":"datum.g=='D'"}],"mark":{"type":"rule","color":"#ff1414","strokeWidth":1.5},
"encoding":{"x":{"field":"x","type":"quantitative","axis":null},"y":{"field":"y","type":"quantitative","axis":null},"y2":{"field":"arr"}}},
{"data":{"name":"pts"},"transform":[{"filter":"datum.g=='D'"}],"mark":{"type":"point","shape":"triangle-down","filled":true,"size":30,"color":"#ff1414","opacity":1},
"encoding":{"x":{"field":"x","type":"quantitative","axis":null},"y":{"field":"arr","type":"quantitative","axis":null}}},
{"data":{"name":"pts"},"mark":{"type":"point","shape":"circle","size":55,"fill":"white","fillOpacity":1,"strokeWidth":1.6,"opacity":1},
"encoding":{"x":{"field":"x","type":"quantitative","axis":null},"y":{"field":"y","type":"quantitative","axis":null},
"stroke":{"field":"g","type":"nominal","scale":{"domain":["A","B","C","M","D"],"range":["#7fc6ee","#0c0c88","#0b640b","#b020b0","#ff1414"]},"legend":null}}},
{"data":{"name":"txt"},"transform":[{"filter":"datum.p=='E' && datum.r=='letter'"}],"mark":{"type":"text","fontSize":11,"color":"#222"},
"encoding":{"x":{"field":"x","type":"quantitative","axis":null},"y":{"field":"y","type":"quantitative","axis":null},"text":{"field":"t"}}},
{"data":{"name":"txt"},"transform":[{"filter":"datum.p=='E' && datum.r=='title'"}],"mark":{"type":"text","fontSize":11.5,"color":"#111","align":"right"},
"encoding":{"x":{"field":"x","type":"quantitative","axis":null},"y":{"field":"y","type":"quantitative","axis":null},"text":{"field":"t"}}},
{"data":{"name":"txt"},"transform":[{"filter":"datum.p=='E' && datum.r=='sub'"}],"mark":{"type":"text","fontSize":8.5,"color":"#555","align":"right"},
"encoding":{"x":{"field":"x","type":"quantitative","axis":null},"y":{"field":"y","type":"quantitative","axis":null},"text":{"field":"t"}}}
],
"resolve":{"axis":{"x":"independent","y":"independent"}}}
]
}
